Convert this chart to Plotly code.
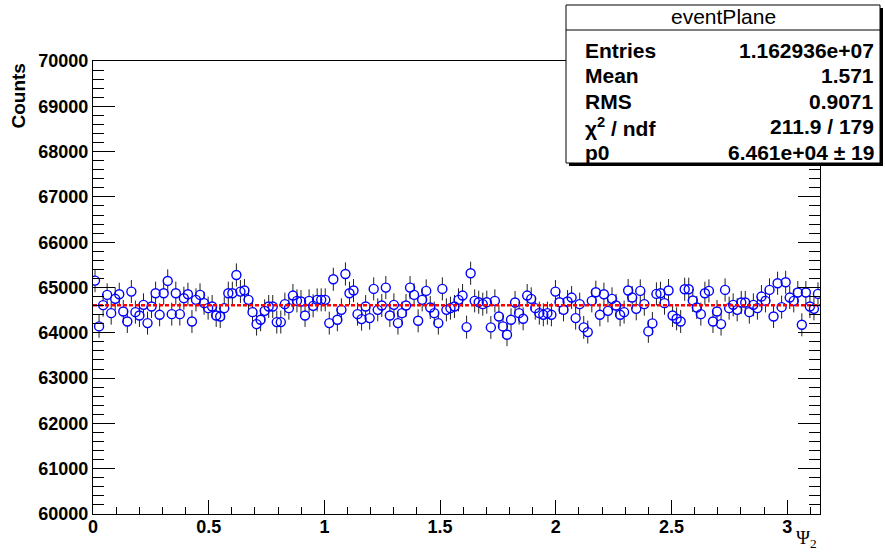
import numpy as np
import plotly.graph_objects as go

# ---------------- data ----------------
n_bins = 180
x_min, x_max = 0.0, np.pi

counts = [
    65152, 64141, 64610, 64837, 64434, 64750, 64852, 64470, 64250, 64910,
    64456, 64383, 64617, 64214, 64580, 64874, 64397, 64874, 65145, 64412,
    64874, 64412, 64764, 64852, 64250, 64727, 64837, 64654, 64544, 64580,
    64383, 64360, 64544, 64874, 64874, 65277, 64910,
    64933, 64727, 64456, 64192, 64287, 64485, 64580, 64580, 64236, 64236,
    64632, 64544, 64822, 64705, 64690, 64383, 64705, 64595, 64727, 64727,
    64727, 64214, 65182, 64287, 64507, 65299, 64874, 64933, 64412, 64302,
    64580, 64324, 64969, 64507, 64603, 64998, 64383, 64617,
    64214, 64434, 64603, 64998, 64837, 64265, 64727, 64925, 64559, 64434,
    64214, 64969, 64507, 64544, 64580, 64727, 64822, 64126, 65314, 64705,
    64676, 64632, 64676, 64119, 64705, 64360, 64141, 63958, 64287, 64669,
    64434, 64309, 64822, 64749, 64544, 64434, 64397,
    64434, 64397,
    64910, 64676, 64507, 64690, 64778, 64324, 64632, 64119, 64016, 64705,
    64896, 64397, 64852, 64485, 64749, 64603, 64397, 64456, 64933, 64778,
    64529, 64925, 64632, 64031, 64207, 64859, 64874, 64654, 64933, 64383,
    64309, 64250, 64962, 64962, 64713, 64559,
    64412, 64874, 64925, 64250, 64470, 64192, 64947, 64544, 64617, 64507,
    64669, 64669, 64456, 64617, 64544, 64800, 64705, 64947, 64360, 65094,
    64566, 65116, 64778, 64705, 64889, 64177, 64889, 64580, 64529, 64859,
]

fit_p0 = 64610

x_tick_vals = [0, 0.5, 1, 1.5, 2, 2.5, 3]
x_tick_text = ["0", "0.5", "1", "1.5", "2", "2.5", "3"]
y_tick_vals = [60000, 61000, 62000, 63000, 64000, 65000, 66000, 67000, 68000, 69000, 70000]
y_tick_text = [str(v) for v in y_tick_vals]

stat_names = ["Entries", "Mean", "RMS", "\u03c7<sup>2</sup> / ndf", "p0"]
stat_values = ["1.162936e+07", "1.571", "0.9071", "211.9 / 179", "6.461e+04 \u00b1 19"]
hist_name = "eventPlane"

# ---------------- derived ----------------
bw = (x_max - x_min) / n_bins
centers = x_min + (np.arange(n_bins) + 0.5) * bw
vals = np.array(counts, dtype=float)
errs = np.sqrt(vals)

# error bars drawn outside the marker (ROOT style)
gap = 95.0
ex, ey = [], []
for c, v, e in zip(centers, vals, errs):
    ex += [c, c, None, c, c, None]
    ey += [v + gap, v + e, None, v - gap, v - e, None]

# ---------------- layout geometry (pixels) ----------------
W_PX, H_PX = 885, 553
L, R, T, B = 93, 820, 61, 514


def pxx(x):
    return (x - L) / (R - L)


def pxy(y):
    return (B - y) / (B - T)


FONT = "Liberation Sans"

fig = go.Figure()

fig.add_trace(go.Scatter(
    x=ex, y=ey, mode="lines",
    line=dict(color="#202020", width=1),
    hoverinfo="skip", showlegend=False,
))
fig.add_trace(go.Scatter(
    x=centers, y=vals, mode="markers",
    marker=dict(symbol="circle-open", size=9, color="#0000ff",
                line=dict(width=1.4, color="#0000ff")),
    showlegend=False,
))
fig.add_trace(go.Scatter(
    x=[x_min, x_max], y=[fit_p0, fit_p0], mode="lines",
    line=dict(color="#ff0000", width=2.5, dash="4px,2px"),
    showlegend=False,
))

fig.update_xaxes(
    range=[x_min, x_max], showgrid=False, zeroline=False,
    showline=True, linecolor="black", linewidth=1, mirror=True,
    ticks="inside", ticklen=14, tickwidth=1, tickcolor="black",
    tickvals=x_tick_vals, ticktext=x_tick_text, ticklabelstandoff=-4,
    tickfont=dict(family=FONT, size=18, color="black", weight="bold"),
    minor=dict(dtick=0.1, ticks="inside", ticklen=7, tickcolor="black", showgrid=False),
)
fig.update_yaxes(
    range=[60000, 70000], showgrid=False, zeroline=False,
    showline=True, linecolor="black", linewidth=1, mirror="ticks",
    ticks="inside", ticklen=22, tickwidth=1, tickcolor="black",
    tickvals=y_tick_vals, ticktext=y_tick_text,
    tickfont=dict(family=FONT, size=18, color="black", weight="bold"),
    minor=dict(dtick=200, ticks="inside", ticklen=11, tickcolor="black", showgrid=False),
)

shapes = []
# stats box shadow + box
bx0, bx1, by0, by1 = 566, 880, 5, 163
shapes.append(dict(type="rect", xref="paper", yref="paper",
                   x0=pxx(bx0 + 3), x1=pxx(bx1 + 3), y0=pxy(by1 + 3), y1=pxy(by0 + 3),
                   fillcolor="black", line=dict(width=0), layer="above"))
shapes.append(dict(type="rect", xref="paper", yref="paper",
                   x0=pxx(bx0), x1=pxx(bx1), y0=pxy(by1), y1=pxy(by0),
                   fillcolor="white", line=dict(color="black", width=1), layer="above"))
shapes.append(dict(type="line", xref="paper", yref="paper",
                   x0=pxx(bx0), x1=pxx(bx1), y0=pxy(30), y1=pxy(30),
                   line=dict(color="black", width=1), layer="above"))

annotations = []
annotations.append(dict(xref="paper", yref="paper", x=pxx((bx0 + bx1) / 2), y=pxy(17),
                        text=hist_name, showarrow=False, xanchor="center", yanchor="middle",
                        font=dict(family=FONT, size=21, color="black")))
row_y = [50, 76, 101.5, 127, 152.5]
for name, val, ry in zip(stat_names, stat_values, row_y):
    annotations.append(dict(xref="paper", yref="paper", x=pxx(583), y=pxy(ry),
                            text=name, showarrow=False, xanchor="left", yanchor="middle",
                            font=dict(family=FONT, size=21, color="black", weight="bold")))
    annotations.append(dict(xref="paper", yref="paper", x=pxx(876), y=pxy(ry),
                            text=val, showarrow=False, xanchor="right", yanchor="middle",
                            font=dict(family=FONT, size=21, color="black", weight="bold")))

annotations.append(dict(xref="paper", yref="paper", x=pxx(18), y=pxy(62),
                        text="Counts", showarrow=False, textangle=-90,
                        xanchor="center", yanchor="top",
                        font=dict(family=FONT, size=19, color="black", weight="bold")))
annotations.append(dict(xref="paper", yref="paper", x=pxx(819), y=pxy(539),
                        text="\u03a8<sub>2</sub>", showarrow=False,
                        xanchor="right", yanchor="middle",
                        font=dict(family="Liberation Serif", size=19, color="black")))

fig.update_layout(
    width=W_PX, height=H_PX,
    margin=dict(l=L, r=W_PX - R, t=T, b=H_PX - B, pad=0),
    paper_bgcolor="white", plot_bgcolor="white",
    shapes=shapes, annotations=annotations,
    showlegend=False,
)

fig.write_html("out.html")
